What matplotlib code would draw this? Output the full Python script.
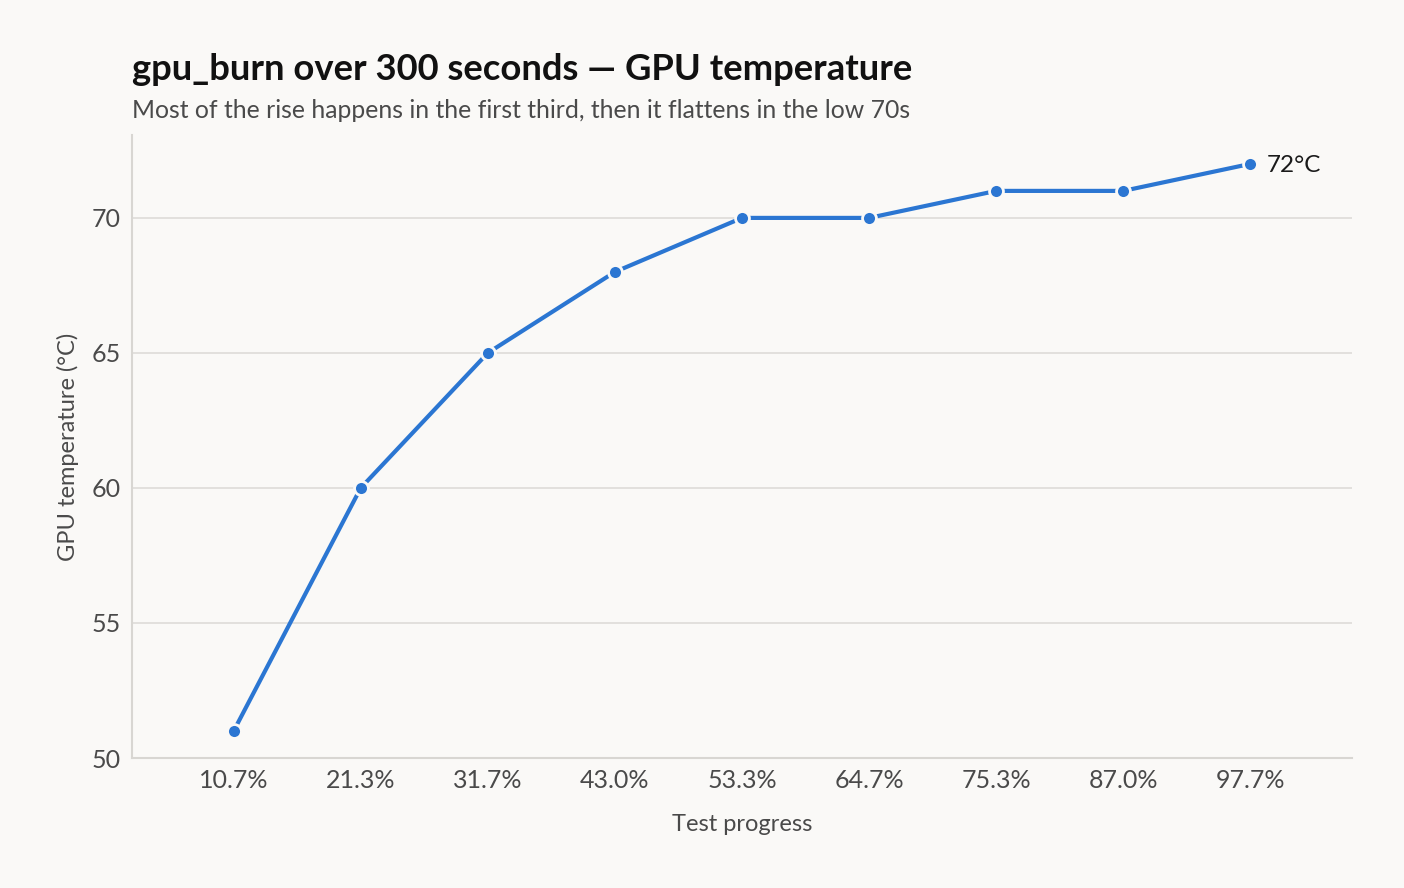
import matplotlib
matplotlib.use("Agg")
import matplotlib.pyplot as plt

# Dane do wykresu
progress = ["10.7%", "21.3%", "31.7%", "43.0%", "53.3%", "64.7%", "75.3%", "87.0%", "97.7%"]
temps = [51, 60, 65, 68, 70, 70, 71, 71, 72]
yticks = [50, 55, 60, 65, 70]

BG = "#faf9f7"
BLUE = "#2b76d2"
GRID = "#e0dedb"
TXT = "#4a4a4a"

plt.rcParams["font.family"] = ["Lato", "DejaVu Sans"]

fig = plt.figure(figsize=(14.04, 8.88), dpi=100, facecolor=BG)
ax = fig.add_axes([132 / 1404, 1 - 758 / 888, 1220 / 1404, 623 / 888])
ax.set_facecolor(BG)

x = list(range(len(progress)))
ax.plot(x, temps, color=BLUE, lw=3, marker="o", ms=10,
        markerfacecolor=BLUE, markeredgecolor=BG, markeredgewidth=2, zorder=3)
ax.annotate(f"{temps[-1]}°C", (x[-1], temps[-1]), xytext=(12, 0),
            textcoords="offset points", va="center_baseline", ha="left",
            fontsize=17.5, color="#1a1a1a")

ax.set_xlim(-0.8, 8.8)
ax.set_ylim(50, 73.07)
ax.set_xticks(x)
ax.set_xticklabels(progress)
ax.set_yticks(yticks)
ax.grid(axis="y", color=GRID, lw=1.3)
ax.set_axisbelow(True)
for s in ["top", "right"]:
    ax.spines[s].set_visible(False)
for s in ["left", "bottom"]:
    ax.spines[s].set_color("#d8d6d2")
    ax.spines[s].set_linewidth(1.5)
ax.tick_params(length=0, labelsize=18, labelcolor=TXT, pad=8)
ax.set_xlabel("Test progress", fontsize=17, color=TXT, labelpad=16)
ax.set_ylabel("GPU temperature (°C)", fontsize=17, color=TXT, labelpad=9)

fig.text(132 / 1404, 1 - 70 / 888, "gpu_burn over 300 seconds — GPU temperature",
         fontsize=26.2, fontweight="bold", color="#111111", va="center", ha="left")
fig.text(132 / 1404, 1 - 110 / 888,
         "Most of the rise happens in the first third, then it flattens in the low 70s",
         fontsize=17.8, color=TXT, va="center", ha="left")

fig.savefig("out.png", dpi=100, facecolor=BG)
